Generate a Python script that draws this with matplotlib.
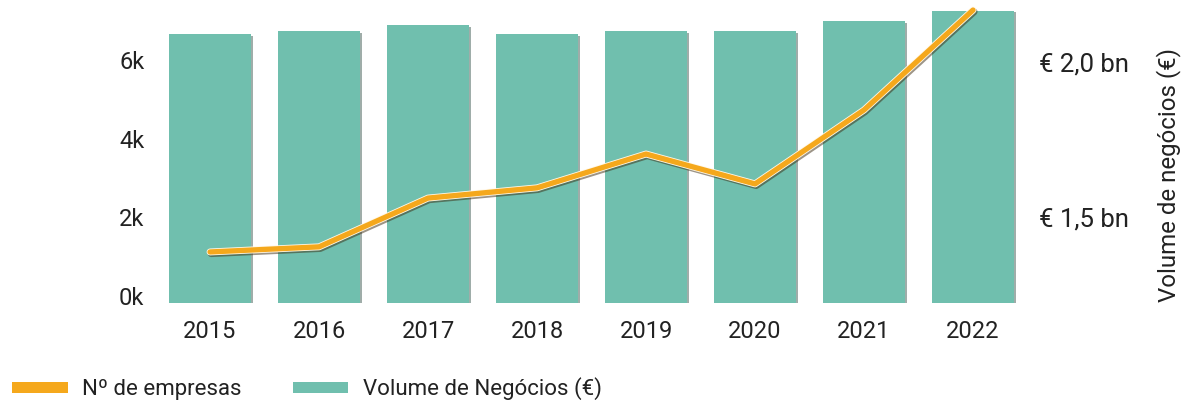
import matplotlib
matplotlib.use("Agg")
import matplotlib.pyplot as plt
import matplotlib.patheffects as pe
from matplotlib.patches import Patch
from matplotlib import font_manager

years = ["2015", "2016", "2017", "2018", "2019", "2020", "2021", "2022"]
empresas_k = [1.12, 1.25, 2.49, 2.75, 3.61, 2.85, 4.73, 7.27]          # Nº de empresas (thousands)
volume_bn = [2.090, 2.100, 2.119, 2.090, 2.100, 2.100, 2.132, 2.165]  # Volume de Negócios (€ bn)
left_ticks = [0, 2, 4, 6]
left_labels = ["0k", "2k", "4k", "6k"]
right_ticks = [1.5, 2.0]
right_labels = ["€ 1,5 bn", "€ 2,0 bn"]

avail = {f.name for f in font_manager.fontManager.ttflist}
fam = "Roboto" if "Roboto" in avail else "DejaVu Sans"
plt.rcParams["font.family"] = [fam, "DejaVu Sans"]

TEXT = "#222222"
TEAL = "#70BFAE"
ORANGE = "#F5A81C"

fig = plt.figure(figsize=(11.82, 4.0), dpi=100)
ax = fig.add_axes([0.1316, 0.2425, 0.7377, 0.75])
ax2 = ax.twinx()

x = list(range(len(years)))
bars = ax.bar(x, volume_bn, width=0.75, color=TEAL, zorder=2)
for b in bars:
    b.set_path_effects([
        pe.SimplePatchShadow(offset=(1.2, -1.2), shadow_rgbFace="#2a4a42", alpha=0.45),
        pe.Normal(),
    ])
ax.set_xlim(-0.5, len(years) - 0.5)
ax.set_ylim(1.2226, 2.19)
ax.yaxis.tick_right()
ax.set_yticks(right_ticks)
ax.set_yticklabels(right_labels)
fig.text(1169 / 1182, 1 - 175 / 400, "Volume de negócios (€)", rotation=90,
         ha="center", va="center", fontsize=17.3, color=TEXT)

ax2.plot(x, empresas_k, color=ORANGE, lw=3.8, solid_capstyle="round", solid_joinstyle="round",
         zorder=5,
         path_effects=[
             pe.SimpleLineShadow(offset=(0.8, -1.2), shadow_color="#3a2a10", alpha=0.5, linewidth=5.0),
             pe.Stroke(linewidth=5.0, foreground="#FFF8E8"),
             pe.Normal(),
         ])
ax2.set_ylim(-0.178, 7.45)
ax2.yaxis.tick_left()
ax2.set_yticks(left_ticks)
ax2.set_yticklabels(left_labels)

for a in (ax, ax2):
    for s in a.spines.values():
        s.set_visible(False)
    a.tick_params(axis="both", length=0, labelsize=17, colors=TEXT)
ax.tick_params(axis="y", pad=8, labelsize=18.5)
ax2.tick_params(axis="y", pad=8)
ax.tick_params(axis="x", pad=12)
ax.set_xticks(x)
ax.set_xticklabels(years)

handles = [Patch(facecolor=ORANGE, edgecolor="none", label="Nº de empresas"),
           Patch(facecolor=TEAL, edgecolor="none", label="Volume de Negócios (€)")]
leg = fig.legend(handles=handles, loc="center left", bbox_to_anchor=(12 / 1182, 11 / 400),
                 ncol=2, frameon=False, fontsize=16, handlelength=2.5, handleheight=0.4,
                 handletextpad=0.65, columnspacing=2.3, borderpad=0, borderaxespad=0)
for t in leg.get_texts():
    t.set_color(TEXT)

fig.savefig("out.png", dpi=100)
